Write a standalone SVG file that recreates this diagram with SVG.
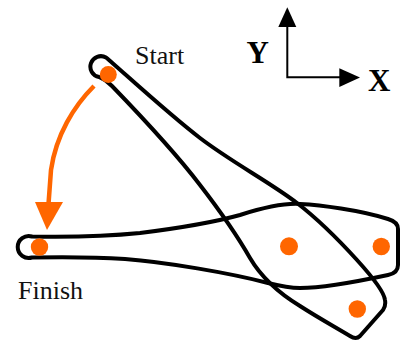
<svg xmlns="http://www.w3.org/2000/svg" width="401" height="341" viewBox="0 0 401 341">
  <style>
    .outline { fill: none; stroke: #000; stroke-width: 4; stroke-linejoin: round; }
    .dot { fill: #FF6600; }
    .label { font-family: "Liberation Serif", "Times New Roman", serif; font-size: 26px; fill: #111; }
    .axis-label { font-family: "Liberation Serif", "Times New Roman", serif; font-size: 31px; font-weight: bold; fill: #000; }
    .axis { stroke: #000; stroke-width: 2; fill: none; }
    .move { stroke: #FF6600; stroke-width: 4.5; fill: none; }
  </style>
  <rect width="401" height="341" fill="#fff"/>

  <!-- link at the start pose: long tapered link from upper left to lower right -->
  <g id="start-link">
    <path class="outline" d="M 106,57.5 A 10.5 10.5 0 1 0 99,77
      C 104,79 108,82 112,86
      C 140,115 175,152 200,185
      C 217,207 238,237 250,258
      C 260,275 277,292 300,306
      C 317,317 335,327 350,336
      Q 356,340 360,336
      L 383,310
      Q 386,306 385,300
      C 384,291 371.7,276.2 357,260
      C 342.3,243.8 323.2,223.3 297,203
      C 270.8,182.7 231.8,162.3 200,138
      C 168.2,113.7 121.3,70.4 106,57.5 Z"/>
    <circle class="dot" cx="108.3" cy="74.5" r="8.5"/>
    <circle class="dot" cx="357.3" cy="309" r="8.7"/>
  </g>

  <!-- link at the finish pose: lying nearly horizontal -->
  <g id="finish-link">
    <path class="outline" d="M 32,236.5 A 11 11 0 1 0 32,257.5
      C 60,257 95,257 125,259
      C 165,262 230,273 268,283
      C 280,286 290,288 300,288
      C 320,288 360,281 388,275
      Q 398,273 398,265
      L 398,229
      Q 398,222 388,219
      C 360,210 320,205 300,204
      C 285,203 262,208 240,215
      C 215,222 180,228 140,233
      C 100,237 60,237 32,236.5 Z"/>
    <circle class="dot" cx="39.5" cy="247" r="8.7"/>
    <circle class="dot" cx="289" cy="246.3" r="9"/>
    <circle class="dot" cx="381.3" cy="246.5" r="8.7"/>
  </g>

  <!-- motion arrow from start to finish -->
  <g id="connectors">
    <path class="move" d="M 94,86 C 74,106 56,135 51,170 L 48.5,204"/>
    <polygon fill="#FF6600" points="35,202 63,202 47,230"/>
  </g>

  <!-- coordinate axes -->
  <g id="axes">
    <path class="axis" d="M 287.3,26 L 287.3,77.3 L 341,77.3"/>
    <polygon fill="#000" points="278.3,27 296.3,27 287.3,7.3"/>
    <polygon fill="#000" points="339.3,68.3 339.3,87 360,77.6"/>
    <text class="axis-label" x="246.5" y="63">Y</text>
    <text class="axis-label" x="368" y="91">X</text>
  </g>

  <g id="labels">
    <text class="label" x="135" y="64">Start</text>
    <text class="label" x="18" y="299">Finish</text>
  </g>
</svg>
